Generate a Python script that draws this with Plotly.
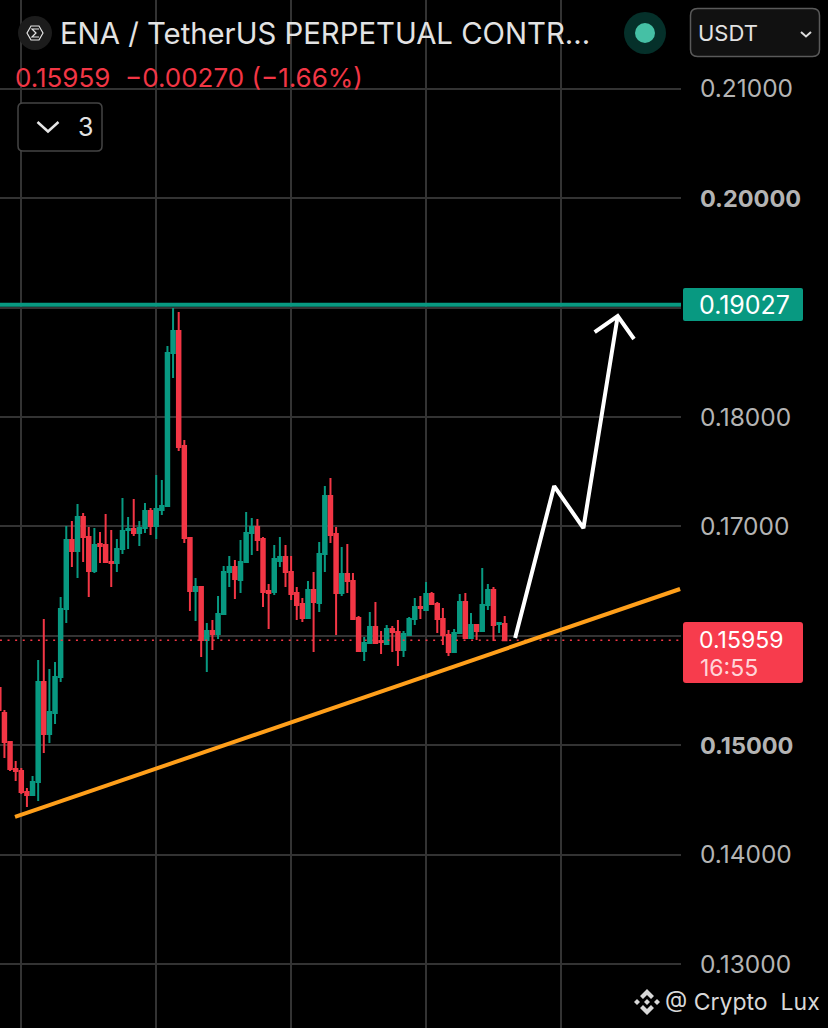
import plotly.graph_objects as go

W, H = 828, 1028
PLOT_RIGHT = 681

opens = [.15523,.15295,.15030,.14782,.14764,.14573,.14545,.14664,.15578,.15102,
         .15295,.15624,.16245,.16876,.16775,.17086,.16903,.16593,.16839,.16830,
         .16675,.16666,.16793,.16967,.16976,.16940,.16985,.17141,.17004,.17150,
         .17187,.18586,.18786,.17735,.16894,.16410,.16446,.15962,.16044,.16017,
         .16200,.16584,.16629,.16510,.16675,.16940,.16995,.16885,.16410,.16401,
         .16684,.16720,.16584,.16391,.16291,.16163,.16419,.16300,.16748,.17278,
         .16930,.16391,.16565,.16501,.16163,.15861,.15935,.16081,.15953,.15926,
         .16063,.16035,.15870,.16008,.16154,.16263,.16236,.16382,.16291,.16154,
         .16008,.15852,.16026,.16309,.15980,.16099,.16044,.16282,.16419,.16108,
         .16108]
highs = [.15541,.15322,.15039,.14856,.14791,.14609,.14718,.15779,.16154,.15697,
         .15761,.16355,.17004,.17050,.17205,.17123,.16995,.16985,.16949,.17114,
         .16967,.16885,.17260,.17086,.17251,.17050,.17214,.17168,.17470,.17424,
         .18649,.18997,.18960,.17790,.16894,.16528,.16455,.16118,.16145,.16364,
         .16639,.16730,.16693,.16876,.17132,.17077,.17068,.16903,.16474,.16830,
         .16903,.16830,.16730,.16446,.16346,.16501,.16584,.16858,.17370,.17443,
         .16995,.16812,.16839,.16574,.16181,.15989,.16218,.16309,.16044,.16099,
         .16090,.16145,.16044,.16172,.16346,.16364,.16492,.16401,.16309,.16254,
         .16053,.16063,.16382,.16391,.16209,.16108,.16620,.16474,.16446,.16127,
         .16181]
lows = [.15304,.14883,.14764,.14673,.14554,.14435,.14545,.14490,.14929,.15021,
        .15194,.15578,.16118,.16629,.16528,.16675,.16355,.16574,.16666,.16675,
        .16446,.16584,.16748,.16793,.16912,.16821,.16940,.16921,.16885,.17105,
        .17187,.18357,.17690,.16848,.16227,.16136,.15806,.15669,.15870,.15971,
        .16191,.16446,.16336,.16391,.16675,.16739,.16775,.16263,.16063,.16373,
        .16629,.16446,.16327,.16145,.16127,.16163,.15852,.16218,.16584,.16848,
        .16008,.16364,.16391,.16145,.15852,.15770,.15935,.15935,.15834,.15926,
        .15852,.15724,.15806,.15999,.16099,.16154,.16227,.16282,.16026,.15916,
        .15815,.15852,.16026,.15971,.15971,.15962,.16035,.16236,.15953,.16026,
        .15959]
closes = [.15322,.15030,.14782,.14764,.14573,.14545,.14664,.15578,.15102,.15304,
          .15624,.16245,.16876,.16775,.17086,.16903,.16593,.16830,.16821,.16675,
          .16666,.16793,.16958,.16976,.16940,.16985,.17141,.17004,.17159,.17187,
          .18586,.18786,.17726,.16894,.16410,.16446,.15962,.16044,.16017,.16200,
          .16584,.16629,.16519,.16675,.16940,.16995,.16876,.16401,.16391,.16702,
          .16720,.16584,.16382,.16282,.16163,.16419,.16309,.16748,.17278,.16921,
          .16391,.16565,.16501,.16154,.15861,.15935,.16081,.15935,.15944,.16063,
          .16035,.15870,.16017,.16154,.16263,.16254,.16382,.16291,.16154,.16008,
          .15852,.16026,.16309,.15980,.16099,.16044,.16282,.16419,.16099,.16118,
          .15959]
bars = list(range(len(opens)))

resistance_x = [0.2, 121.4]
resistance_y = [0.19027, 0.19027]
last_price_x = [0.2, 121.4]
last_price_y = [0.15959, 0.15959]
trend_x = [2.88, 121.2]
trend_y = [0.14344, 0.16428]
path_x = [91.85, 98.8, 104.0, 110.1]
path_y = [0.15980, 0.17369, 0.16985, 0.18923]
head_x = [106.0, 110.1, 113.0]
head_y = [0.18777, 0.18923, 0.18713]

price_ticks = [0.13, 0.14, 0.15, 0.16, 0.17, 0.18, 0.19, 0.20, 0.21]
price_labels = ["0.13000", "0.14000", "<span style=\"font-size:23.5px\"><b>0.15000</b></span>", "",
                "0.17000", "0.18000", "", "<span style=\"font-size:23.5px\"><b>0.20000</b></span>", "0.21000"]
time_ticks = [4, 28, 52, 76, 100]

UP = "#089981"
DOWN = "#f23645"
GRID = "#333333"
FONT = "Inter"


def px(x):
    return x / W


def py(y):
    return 1 - y / H


def rrect(x0, y0, x1, y1, r, fill, line="rgba(0,0,0,0)", lw=0):
    p = (f"M{px(x0+r)},{py(y0)} L{px(x1-r)},{py(y0)} Q{px(x1)},{py(y0)} {px(x1)},{py(y0+r)} "
         f"L{px(x1)},{py(y1-r)} Q{px(x1)},{py(y1)} {px(x1-r)},{py(y1)} L{px(x0+r)},{py(y1)} "
         f"Q{px(x0)},{py(y1)} {px(x0)},{py(y1-r)} L{px(x0)},{py(y0+r)} Q{px(x0)},{py(y0)} {px(x0+r)},{py(y0)} Z")
    return dict(type="path", path=p, xref="paper", yref="paper", fillcolor=fill,
                line=dict(color=line, width=lw), layer="above")


def circle(cx, cy, r, fill, line="rgba(0,0,0,0)", lw=0):
    return dict(type="circle", xref="paper", yref="paper", x0=px(cx-r), x1=px(cx+r),
                y0=py(cy+r), y1=py(cy-r), fillcolor=fill, line=dict(color=line, width=lw), layer="above")


def poly(points, fill="rgba(0,0,0,0)", line="rgba(0,0,0,0)", lw=0, close=True):
    p = "M" + " L".join(f"{px(a)},{py(b)}" for a, b in points) + (" Z" if close else "")
    return dict(type="path", path=p, xref="paper", yref="paper", fillcolor=fill,
                line=dict(color=line, width=lw), layer="above")


def label(x, y, text, size, color, anchor="left"):
    return dict(xref="paper", yref="paper", x=px(x), y=py(y), xanchor=anchor, yanchor="middle",
                text=text, showarrow=False, font=dict(family=FONT, size=size, color=color),
                align=anchor)


fig = go.Figure()
fig.add_trace(go.Candlestick(
    x=bars, open=opens, high=highs, low=lows, close=closes, whiskerwidth=0,
    increasing=dict(line=dict(color=UP, width=2), fillcolor=UP),
    decreasing=dict(line=dict(color=DOWN, width=2), fillcolor=DOWN),
    hoverinfo="skip", showlegend=False))
fig.add_trace(go.Scatter(x=last_price_x, y=last_price_y, mode="lines", hoverinfo="skip", showlegend=False,
                         line=dict(color=DOWN, width=1.5, dash="2px,5.6px")))
fig.add_trace(go.Scatter(x=resistance_x, y=resistance_y, mode="lines", hoverinfo="skip", showlegend=False,
                         line=dict(color=UP, width=4)))
fig.add_trace(go.Scatter(x=trend_x, y=trend_y, mode="lines", hoverinfo="skip", showlegend=False,
                         line=dict(color="#ff9f1a", width=4)))
fig.add_trace(go.Scatter(x=path_x, y=path_y, mode="lines", hoverinfo="skip", showlegend=False,
                         line=dict(color="#ffffff", width=4)))
fig.add_trace(go.Scatter(x=head_x, y=head_y, mode="lines", hoverinfo="skip", showlegend=False,
                         line=dict(color="#ffffff", width=4)))

shapes = [
    rrect(683, 288, 803, 321, 2, UP),
    rrect(683, 622, 803, 683, 3, "#f73c4d"),
    circle(645, 33, 21, "#05302a"),
    circle(645, 33, 10, "#45c0a5"),
    rrect(690.5, 8.5, 819.5, 56.5, 7, "#111111", "#5a5a5a", 1.5),
    poly([(801, 32), (806, 36.5), (811, 32)], line="#dddddd", lw=2, close=False),
    rrect(18, 103, 102, 151, 5, "#000000", "#444444", 1.5),
    poly([(37.5, 122), (48, 131.5), (58.5, 122)], line="#e6e6e6", lw=2.5, close=False),
    circle(35, 33, 17, "#1c1c1c"),
    poly([(27, 33), (31, 26), (39, 26), (43, 33), (39, 40), (31, 40)], line="#e6e6e6", lw=1.2),
    poly([(39, 29), (32, 29), (36, 33), (32, 37), (39, 37)], line="#e6e6e6", lw=1.2, close=False),
    poly([(647, 989), (654, 996), (651, 999), (647, 995), (643, 999), (640, 996)], fill="#d8d8d8"),
    poly([(647, 1015), (654, 1008), (651, 1005), (647, 1009), (643, 1005), (640, 1008)], fill="#d8d8d8"),
    poly([(647, 999), (650, 1002), (647, 1005), (644, 1002)], fill="#d8d8d8"),
    poly([(637, 999), (640, 1002), (637, 1005), (634, 1002)], fill="#d8d8d8"),
    poly([(657, 999), (660, 1002), (657, 1005), (654, 1002)], fill="#d8d8d8"),
]

annotations = [
    label(58, 33, "ENA / TetherUS PERPETUAL CONTR...", 29.3, "#e3e3e3"),
    label(13, 78, "0.15959  −0.00270 (−1.66%)", 26, "#f23645"),
    label(76, 127, "3", 25, "#e3e3e3"),
    label(696, 33, "USDT", 22, "#e3e3e3"),
    label(697, 305, "0.19027", 25, "#ffffff"),
    label(697, 640, "0.15959", 23, "#ffffff"),
    label(698, 668, "16:55", 23, "#ffd5d8"),
    label(663, 1002, "@ Crypto  Lux", 23, "#d8d8d8"),
]

fig.update_layout(
    width=W, height=H, margin=dict(l=0, r=0, t=0, b=0),
    paper_bgcolor="#000000", plot_bgcolor="#000000",
    showlegend=False, boxgap=0.12, shapes=shapes, annotations=annotations,
    xaxis=dict(domain=[0, PLOT_RIGHT / W], range=[0.21, 121.36], tickvals=time_ticks,
               showticklabels=False, showgrid=True, gridcolor=GRID, gridwidth=1.5,
               zeroline=False, showline=False, ticks="", rangeslider=dict(visible=False)),
    yaxis=dict(side="right", range=[0.12415, 0.21812], tickvals=price_ticks, ticktext=price_labels,
               tickfont=dict(family=FONT, size=24.5, color="#b4b4b4"),
               showgrid=True, gridcolor=GRID, gridwidth=1.5, zeroline=False, showline=False,
               ticks="outside", ticklen=13, tickcolor="rgba(0,0,0,0)"),
)

fig.write_html("out.html", config=dict(displayModeBar=False),
               post_script="document.body.style.margin='0';document.body.style.background='#000';")
